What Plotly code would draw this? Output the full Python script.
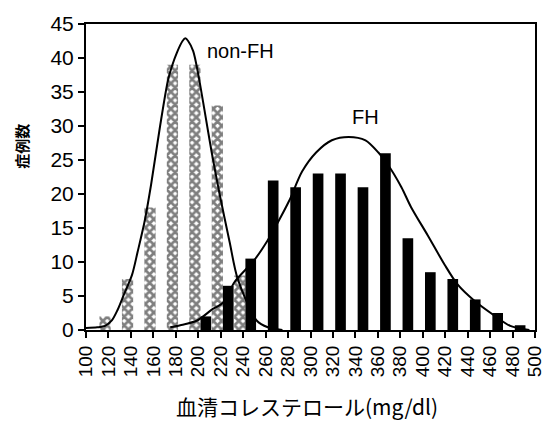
import plotly.graph_objects as go

# ---- data ----
tick_vals = list(range(100, 520, 20))
tick_text = [str(v) for v in tick_vals]
y_ticks = [0, 5, 10, 15, 20, 25, 30, 35, 40, 45]

nonfh_bins = [120, 140, 160, 180, 200, 220, 240]
nonfh_counts = [2, 7.5, 18, 39, 39, 33, 8]

fh_bins = [200, 220, 240, 260, 280, 300, 320, 340, 360, 380, 400, 420, 440, 460, 480]
fh_counts = [2, 6.5, 10.5, 22, 21, 23, 23, 21, 26, 13.5, 8.5, 7.5, 4.5, 2.5, 0.7]

nonfh_curve_x = [99, 110, 117, 123, 128, 134, 141, 146, 152, 158, 166, 173, 177, 181, 186,
                 188.5, 191, 195.5, 200, 206, 212, 219, 228, 235, 252, 262, 275]
nonfh_curve_y = [0.3, 0.4, 0.6, 1.4, 2.9, 5.3, 8.1, 11.5, 15.8, 21.4, 30, 36.7, 39, 40.8, 42.5,
                 42.9, 42.5, 41, 37.6, 31.9, 26.1, 20, 12.9, 7.6, 1.4, 0.4, 0]

fh_curve_x = [175, 184, 199, 213, 222, 232.5, 250, 261.5, 270.5, 281, 292.5, 305, 319, 334,
              349, 360.5, 369, 381, 389.5, 404.5, 419.5, 431, 446, 464, 478, 495]
fh_curve_y = [0.4, 0.7, 1.4, 3.1, 4.0, 7.1, 10.3, 13.1, 15.7, 19, 23.3, 26.1, 27.9, 28.4,
              27.9, 26.1, 24.3, 21, 18.1, 13.9, 9.6, 6.7, 4.3, 2.1, 0.6, 0]

FONT = "Liberation Sans, Arial, Noto Sans CJK JP, sans-serif"
JFONT = "Noto Sans CJK JP, sans-serif"

fig = go.Figure()

fig.add_trace(go.Bar(
    x=nonfh_bins, y=nonfh_counts, offset=-8, width=10,
    marker=dict(color="white", line=dict(width=0),
                pattern=dict(shape="x", fgcolor="black", bgcolor="white",
                             size=6, solidity=0.7)),
    showlegend=False, name="non-FH"))

fig.add_trace(go.Bar(
    x=fh_bins, y=fh_counts, offset=2, width=9.5,
    marker=dict(color="black", line=dict(width=0)),
    showlegend=False, name="FH"))

fig.add_trace(go.Scatter(
    x=nonfh_curve_x, y=nonfh_curve_y, mode="lines",
    line=dict(color="black", width=2, shape="spline", smoothing=0.8),
    showlegend=False))

fig.add_trace(go.Scatter(
    x=fh_curve_x, y=fh_curve_y, mode="lines",
    line=dict(color="black", width=2, shape="spline", smoothing=0.8),
    showlegend=False))

fig.update_layout(
    width=557, height=425,
    margin=dict(l=86, r=19, t=15, b=95),
    paper_bgcolor="white", plot_bgcolor="white",
    barmode="overlay",
    font=dict(family=FONT, color="black"),
    xaxis=dict(range=[100, 500], tickmode="array", tickvals=tick_vals, ticktext=tick_text,
               tickangle=-90, ticks="outside", ticklen=6, tickwidth=1.5, tickcolor="black",
               showline=True, linecolor="black", linewidth=2, mirror=True,
               showgrid=False, zeroline=False, tickfont=dict(size=19, family=FONT)),
    yaxis=dict(range=[0, 45], tickmode="array", tickvals=y_ticks,
               ticks="outside", ticklen=6, tickwidth=1.5, tickcolor="black",
               showline=True, linecolor="black", linewidth=2, mirror=True,
               showgrid=False, zeroline=False, tickfont=dict(size=21, family=FONT)),
    annotations=[
        dict(text="non-FH", x=237.7, y=41, xref="x", yref="y", showarrow=False,
             font=dict(size=20, family=FONT)),
        dict(text="FH", x=349, y=31.3, xref="x", yref="y", showarrow=False,
             font=dict(size=20, family=FONT)),
        dict(text="<b>症例数</b>", x=-0.144, y=0.6, xref="paper", yref="paper", showarrow=False,
             xanchor="center", yanchor="middle",
             textangle=-90, font=dict(size=15, family=JFONT)),
        dict(text="血清コレステロール(mg/dl)", x=0.493, y=-0.248, xref="paper", yref="paper",
             showarrow=False, xanchor="center", yanchor="middle",
             font=dict(size=21, family=JFONT)),
    ],
)

fig.write_html("out.html")
